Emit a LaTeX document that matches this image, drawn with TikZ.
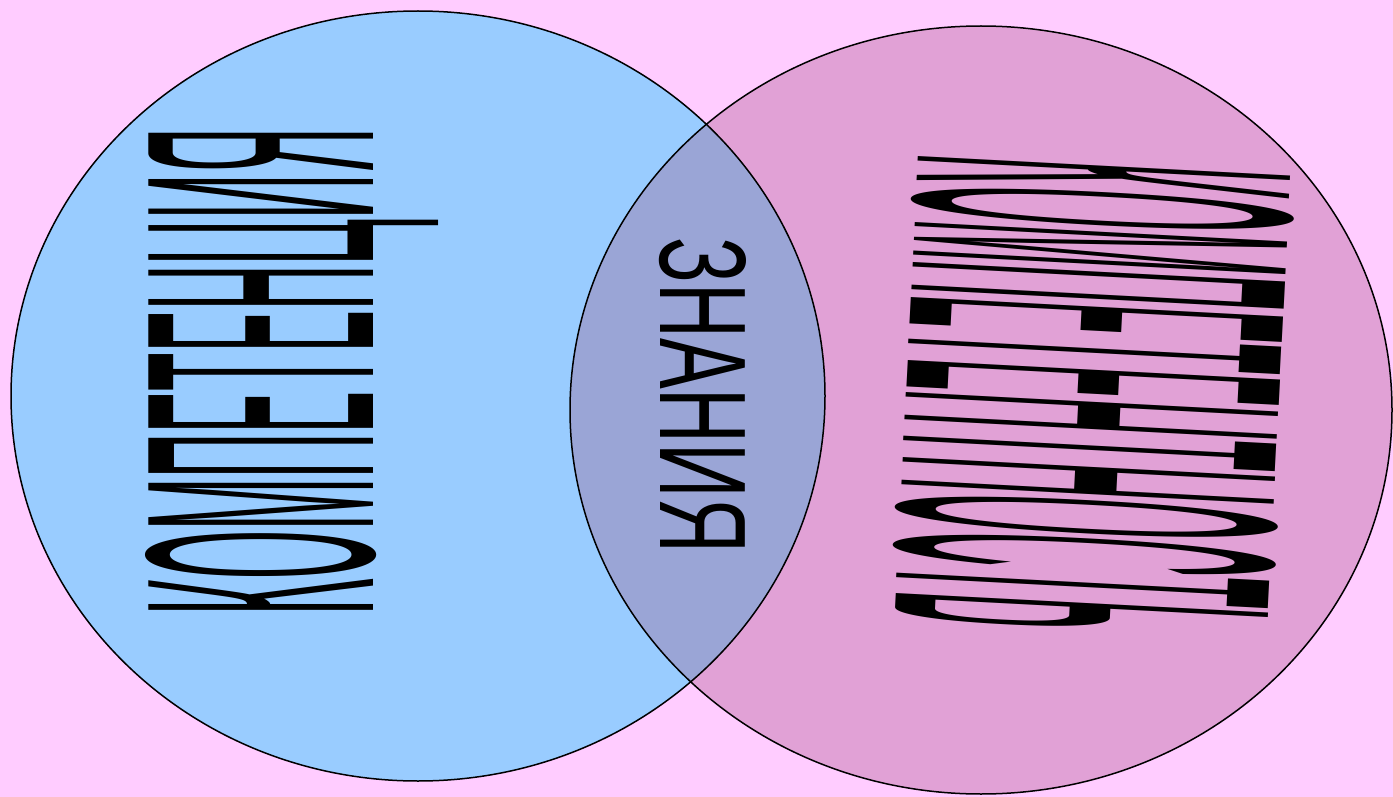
\documentclass[tikz,border=0pt]{standalone}
\usepackage{fontspec}
\setmainfont{Liberation Sans}
\usepackage{graphicx}
\definecolor{bgpink}{HTML}{FFCCFF}
\definecolor{leftblue}{HTML}{99CCFF}
\definecolor{rightpink}{HTML}{E1A1D6}
\definecolor{overlapblue}{HTML}{9AA5D6}
\tikzset{
  venn set/.style={draw=black, line width=0.75pt},
  venn label/.style={inner sep=0pt, anchor=base west, font=\fontsize{20}{24}\selectfont}
}

\begin{document}
\begin{tikzpicture}[x=0.5pt, y=-0.5pt]
    % Background
    \fill[bgpink] (0,0) rectangle (1393,797);
    \useasboundingbox (0,0) rectangle (1393,797);

    % Sets
    \fill[leftblue] (418,396) ellipse [x radius=407, y radius=385];
    \fill[rightpink] (981,410) ellipse [x radius=411, y radius=384];
    \begin{scope}
        \clip (418,396) ellipse [x radius=407, y radius=385];
        \fill[overlapblue] (981,410) ellipse [x radius=411, y radius=384];
    \end{scope}
    \draw[venn set] (418,396) ellipse [x radius=407, y radius=385];
    \draw[venn set] (981,410) ellipse [x radius=411, y radius=384];

    % Labels
    \node[venn label, rotate=90] (competency) at (373,616) {\resizebox{243.5pt}{114pt}{КОМПЕТЕНЦИЯ}};
    \node[venn label, rotate=-90] (knowledge) at (660,237) {\resizebox{158pt}{43pt}{ЗНАНИЯ}};
    \node[venn label, rotate=-93] (competence) at (919,152) {\resizebox{235pt}{189pt}{КОМПЕТЕНТНОСТЬ}};
\end{tikzpicture}
\end{document}
